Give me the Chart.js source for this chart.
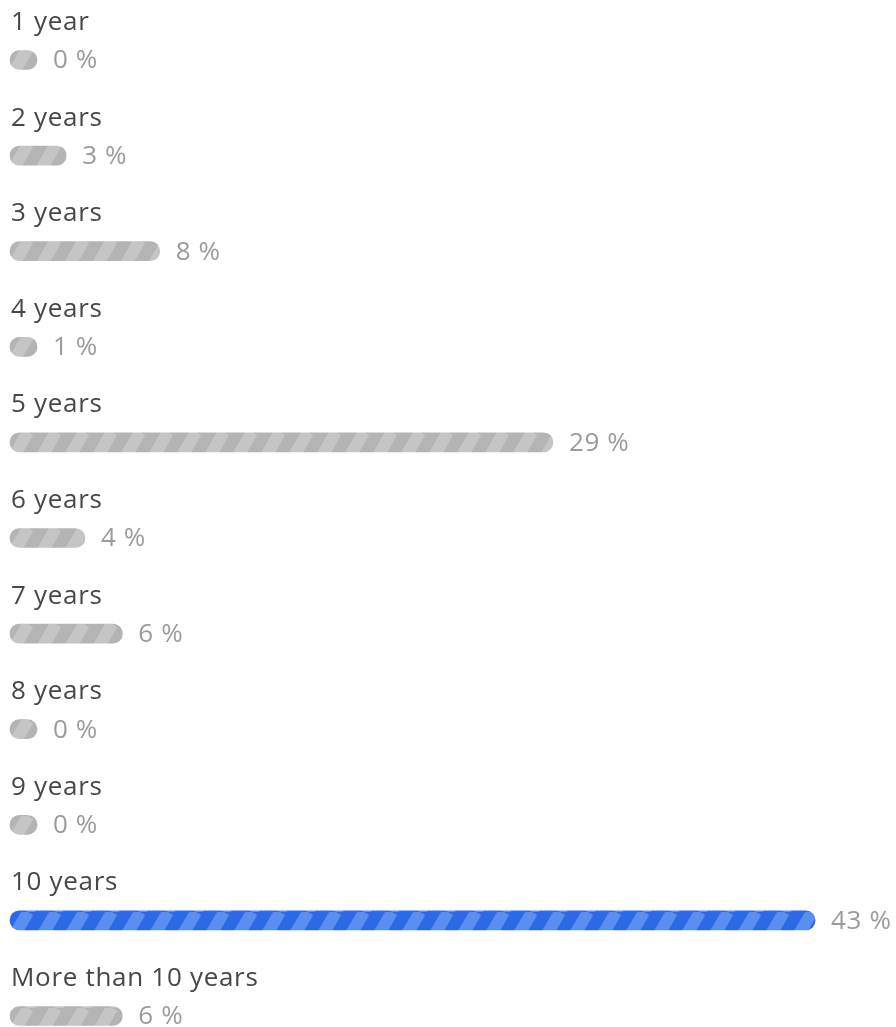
<!DOCTYPE html>
<html lang="en">
<head>
    <meta charset="UTF-8">
    <title>Years poll</title>
    <script src="https://cdn.jsdelivr.net/npm/chart.js"></script>
    <style>
        body { margin: 0; background: #fff; }
        #wrap { width: 896px; height: 1027px; position: relative; }
    </style>
</head>
<body>
    <div id="wrap"><canvas id="pollChart"></canvas></div>

    <script>
        // Poll answers and their shares (percent)
        const categories = ['1 year', '2 years', '3 years', '4 years', '5 years', '6 years',
            '7 years', '8 years', '9 years', '10 years', 'More than 10 years'];
        const shares = [0, 3, 8, 1, 29, 4, 6, 0, 0, 43, 6];
        const chosenAnswer = '10 years';

        // Diagonal striped fill for the bars
        function stripes(base, light) {
            const w = 28, h = 48;
            const c = document.createElement('canvas');
            c.width = w; c.height = h;
            const g = c.getContext('2d');
            g.fillStyle = base;
            g.fillRect(0, 0, w, h);
            g.strokeStyle = light;
            g.lineWidth = 12;
            for (let k = -1; k <= 1; k++) {
                g.beginPath();
                g.moveTo(k * w, h);
                g.lineTo(k * w + w, 0);
                g.stroke();
            }
            return g.createPattern(c, 'repeat');
        }

        const greyFill = stripes('#b4b4b4', '#c5c5c5');
        const blueFill = stripes('#2b6ae6', '#5a8ef1');

        // Draw the answer text above each bar and the percent at its end
        const pollLabels = {
            id: 'pollLabels',
            afterDatasetsDraw(chart) {
                const ctx = chart.ctx;
                const meta = chart.getDatasetMeta(0);
                ctx.save();
                meta.data.forEach((bar, i) => {
                    ctx.font = '26px "Open Sans", "Noto Sans", sans-serif';
                    ctx.letterSpacing = '0.7px';
                    ctx.fillStyle = '#474747';
                    ctx.textAlign = 'left';
                    ctx.textBaseline = 'alphabetic';
                    ctx.fillText(categories[i], bar.base + 1, bar.y - 30);

                    ctx.font = '26px "Open Sans", "Noto Sans", sans-serif';
                    ctx.letterSpacing = '0.6px';
                    ctx.fillStyle = '#9b9b9b';
                    ctx.textBaseline = 'middle';
                    ctx.fillText(shares[i] + ' %', bar.x + 16, bar.y + 1);
                });
                ctx.restore();
            }
        };

        const ctx = document.getElementById('pollChart').getContext('2d');
        new Chart(ctx, {
            type: 'bar',
            data: {
                labels: categories,
                datasets: [{
                    data: shares,
                    backgroundColor: categories.map(c => c === chosenAnswer ? blueFill : greyFill),
                    borderRadius: 10,
                    borderSkipped: false,
                    barThickness: 19,
                    minBarLength: 27,
                    clip: false
                }]
            },
            options: {
                indexAxis: 'y',
                responsive: true,
                maintainAspectRatio: false,
                animation: false,
                layout: { padding: { left: 10, right: 6, top: 60, bottom: 11 } },
                scales: {
                    x: { display: false, min: 0, max: 47 },
                    y: { display: false, offset: false }
                },
                plugins: {
                    legend: { display: false },
                    tooltip: { enabled: false }
                }
            },
            plugins: [pollLabels]
        });
    </script>
</body>
</html>
